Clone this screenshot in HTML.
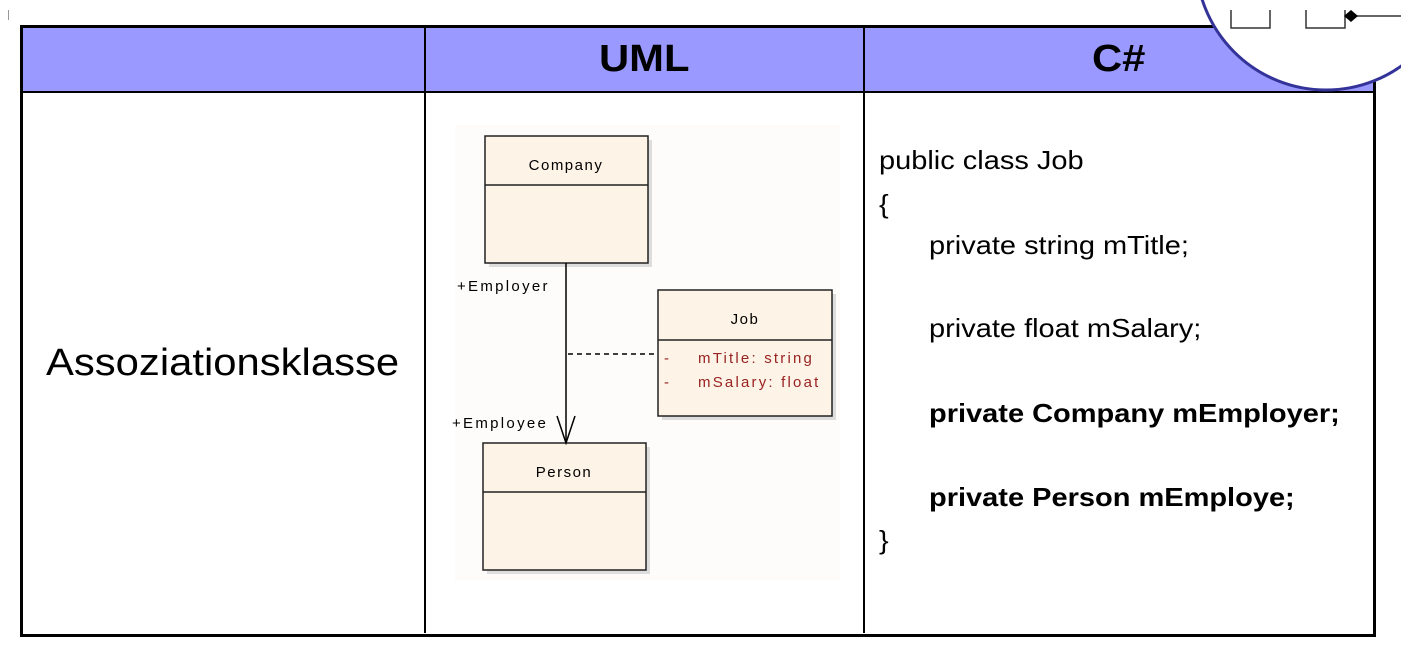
<!DOCTYPE html>
<html><head><style>
body{margin:0;width:1401px;height:667px;background:#fff;position:relative;overflow:hidden;font-family:"Liberation Sans",sans-serif}
.a{position:absolute}
.t{position:absolute;font-size:26px;color:#000;white-space:nowrap;transform-origin:0 0;transform:scaleX(1.115)}
</style></head><body>
<div class="a" style="left:8px;top:10px;width:1px;height:10px;background:#999"></div>
<div class="a" style="left:20px;top:25px;width:1353px;height:67px;background:#9999ff"></div>
<div class="a" style="left:20px;top:25px;width:1350px;height:606px;border:3px solid #000"></div>
<div class="a" style="left:20px;top:91px;width:1356px;height:2px;background:#000"></div>
<div class="a" style="left:424px;top:25px;width:2px;height:608px;background:#000"></div>
<div class="a" style="left:863px;top:25px;width:2px;height:608px;background:#000"></div>
<div class="t" style="left:599px;top:38px;font-size:38px;font-weight:bold;transform:scaleX(1.1)">UML</div>
<div class="t" style="left:1092px;top:38px;font-size:38px;font-weight:bold;transform:scaleX(1.1)">C#</div>
<div class="t" style="left:46px;top:342px;font-size:38px;transform:scaleX(1.1)">Assoziationsklasse</div>
<div class="t" style="left:879px;top:145px">public class Job</div>
<div class="t" style="left:879px;top:189px">{</div>
<div class="t" style="left:929px;top:230px">private string mTitle;</div>
<div class="t" style="left:929px;top:313px">private float mSalary;</div>
<div class="t" style="left:929px;top:398px;font-weight:bold">private Company mEmployer;</div>
<div class="t" style="left:929px;top:482px;font-weight:bold">private Person mEmploye;</div>
<div class="t" style="left:879px;top:525px">}</div>
<svg class="a" style="left:0;top:0" width="1401" height="667">
<rect x="455" y="125" width="385" height="455" fill="#fdfcfa"/>
<g fill="#ddd"><rect x="489" y="140" width="163" height="127"/><rect x="662" y="294" width="174" height="126"/><rect x="487" y="447" width="163" height="127"/></g>
<g fill="#fdf3e6" stroke="#222" stroke-width="1.5">
<rect x="485" y="136" width="163" height="127"/><line x1="485" y1="185" x2="648" y2="185"/>
<rect x="658" y="290" width="174" height="126"/><line x1="658" y1="340" x2="832" y2="340"/>
<rect x="483" y="443" width="163" height="127"/><line x1="483" y1="492" x2="646" y2="492"/>
</g>
<line x1="566" y1="263" x2="566" y2="443" stroke="#000" stroke-width="1.5"/>
<line x1="568" y1="354" x2="658" y2="354" stroke="#000" stroke-width="1.5" stroke-dasharray="5,4"/>
<polyline points="557,416 566,443 575,416" fill="none" stroke="#000" stroke-width="1.5"/>
<g font-family="Liberation Sans,sans-serif" font-size="15" fill="#000" letter-spacing="1.5">
<text x="566" y="170" text-anchor="middle">Company</text>
<text x="745" y="324" text-anchor="middle">Job</text>
<text x="564" y="477" text-anchor="middle">Person</text>
<text x="457" y="291" letter-spacing="2.3">+Employer</text>
<text x="452" y="428" letter-spacing="2.3">+Employee</text>
</g>
<g font-family="Liberation Sans,sans-serif" font-size="15" fill="#992222" letter-spacing="2.2">
<text x="664" y="363">-</text><text x="698" y="363">mTitle: string</text>
<text x="664" y="387">-</text><text x="698" y="387">mSalary: float</text>
</g>
<circle cx="1326" cy="-40" r="130" fill="#fff" stroke="#333399" stroke-width="3"/>
<g fill="none" stroke="#333" stroke-width="1.5">
<polyline points="1231,10 1231,28 1270,28 1270,10"/>
<polyline points="1306,10 1306,28 1345,28 1345,10"/>
<line x1="1345" y1="16" x2="1401" y2="16"/>
</g>
<polygon points="1344,16 1351,10 1358,16 1351,22" fill="#000"/>
</svg>
</body></html>
